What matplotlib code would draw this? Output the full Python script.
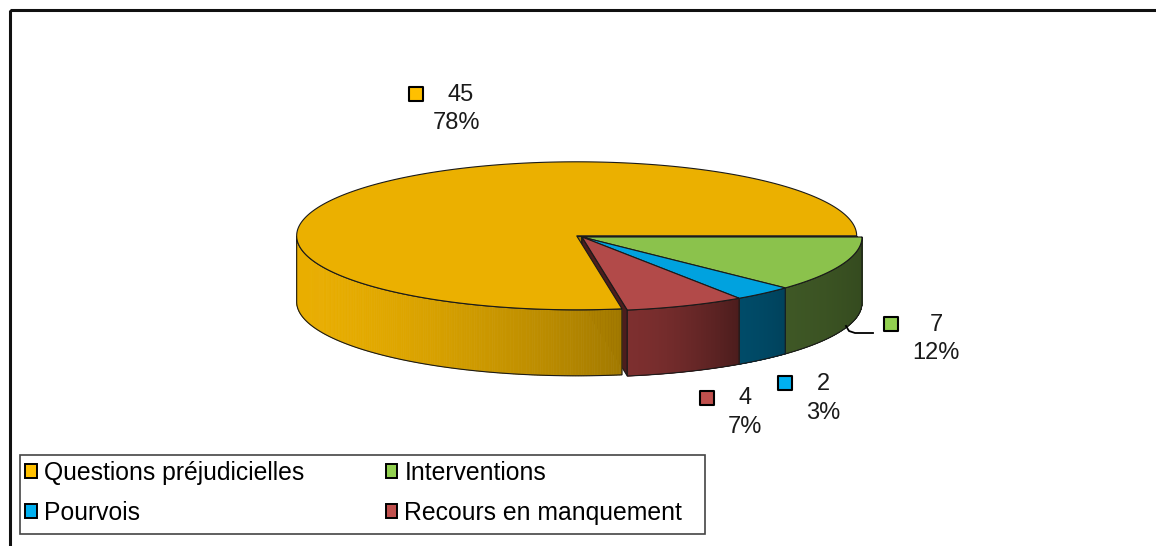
import numpy as np
import matplotlib.pyplot as plt
from matplotlib.patches import Polygon, Rectangle, Patch
from matplotlib.collections import PolyCollection
from matplotlib.colors import to_rgb

plt.rcParams['font.family'] = ['Liberation Sans', 'DejaVu Sans']

# données
categories = ['Questions préjudicielles', 'Interventions', 'Pourvois', 'Recours en manquement']
values = [45, 7, 2, 4]

top_colors = ['#EBB000', '#8BC24C', '#00A2DF', '#B24A49']
side_left = ['#E9AE00', '#3E5725', '#004B68', '#7D2F2F']
side_right = ['#A27900', '#354B1F', '#00425C', '#4C1D1D']
key_colors = ['#FFC000', '#92D050', '#00B0F0', '#C0504D']

# mise en page (pixels)
CX, CY = 582, 237
RX, RY = 280, 74
DEPTH = 66
explode = [0.025, 0, 0, 0]
val_xy = [(461, 95), (936, 325), (823, 384), (745, 398)]
pct_xy = [(457, 123), (936, 353), (823, 413), (745, 427)]
mark_xy = [(416, 94), (891, 324), (785, 383), (707, 398)]
EDGE = '#1a1a1a'

total = sum(values)
# Excel a tourné le camembert pour que "Interventions" commence à 3 heures
start_angle = 360.0 * values[0] / total


def rim(t, cx, cy):
    t = np.radians(t)
    return cx + RX * np.cos(t), cy - RY * np.sin(t)


fig = plt.figure(figsize=(11.56, 5.46), dpi=100)
ax = fig.add_axes([0, 0, 1, 1])
ax.set_xlim(0, 1156)
ax.set_ylim(546, 0)
ax.axis('off')

# secteurs (sens horaire)
slices = []
a0 = start_angle
for i, v in enumerate(values):
    a1 = a0 - 360.0 * v / total
    mid = np.radians((a0 + a1) / 2)
    cx = CX + explode[i] * RX * np.cos(mid)
    cy = CY - explode[i] * RY * np.sin(mid)
    slices.append((a0, a1, cx, cy))
    a0 = a1

# faces radiales visibles
for i, (a0, a1, cx, cy) in enumerate(slices):
    for ang, sign in ((a0, -1), (a1, 1)):
        if sign * np.cos(np.radians(ang)) > 1e-9:
            x, y = rim(ang, cx, cy)
            poly = [(cx, cy), (x, y), (x, y + DEPTH), (cx, cy + DEPTH)]
            ax.add_patch(Polygon(poly, closed=True, fc=side_right[i], ec=EDGE, lw=0.8))

# parois extérieures (partie avant seulement), avec dégradé
for i, (a0, a1, cx, cy) in enumerate(slices):
    ts = np.linspace(a1, a0, 500)
    vis = np.sin(np.radians(ts)) <= 1e-9
    idx = np.flatnonzero(vis)
    if len(idx) < 2:
        continue
    runs = np.split(idx, np.flatnonzero(np.diff(idx) > 1) + 1)
    for run in runs:
        if len(run) < 2:
            continue
        x, y = rim(ts[run], cx, cy)
        order = np.argsort(x)
        x, y = x[order], y[order]
        frac = (x - x.min()) / max(x.max() - x.min(), 1)
        c0, c1 = np.array(to_rgb(side_left[i])), np.array(to_rgb(side_right[i]))
        quads, cols = [], []
        for k in range(len(x) - 1):
            quads.append([(x[k], y[k]), (x[k + 1], y[k + 1]),
                          (x[k + 1], y[k + 1] + DEPTH), (x[k], y[k] + DEPTH)])
            f = ((frac[k] + frac[k + 1]) / 2) ** 1.6
            cols.append(c0 + (c1 - c0) * f)
        ax.add_collection(PolyCollection(quads, facecolors=cols, edgecolors=cols, linewidths=0.5))
        outline = np.r_[np.column_stack([x, y]), np.column_stack([x, y + DEPTH])[::-1]]
        ax.add_patch(Polygon(outline, closed=True, fill=False, ec=EDGE, lw=0.8))

# dessus
for i, (a0, a1, cx, cy) in enumerate(slices):
    ts = np.linspace(a1, a0, 400)
    x, y = rim(ts, cx, cy)
    pts = np.column_stack([np.r_[cx, x], np.r_[cy, y]])
    ax.add_patch(Polygon(pts, closed=True, fc=top_colors[i], ec=EDGE, lw=0.8))

# étiquettes de données
for i, v in enumerate(values):
    pct = f"{round(100 * v / total)}%"
    ax.text(*val_xy[i], str(v), ha='center', va='center', fontsize=17, color='#1a1a1a')
    ax.text(*pct_xy[i], pct, ha='center', va='center', fontsize=17, color='#1a1a1a')
    ax.scatter(*mark_xy[i], s=110, marker='s', color=key_colors[i], edgecolors='black', linewidths=1.5, zorder=5)

# ligne de rappel pour Interventions
ax.plot([873, 855, 849, 846], [333, 333, 331, 326], color='black', lw=1.3)

# cadre du graphique
ax.add_patch(Rectangle((10, 10), 1300, 700, fill=False, ec='#111111', lw=2.2))

# légende
ax.add_patch(Rectangle((20, 455), 685, 79, fill=False, ec='#444444', lw=1.2))
handles = [Patch(fc=c, ec='black', lw=1.4) for c in key_colors]
order = [0, 2, 1, 3]
fig.legend([handles[k] for k in order], [categories[k] for k in order],
           loc='upper left', bbox_to_anchor=(25 / 1156, 1 - 461 / 546), ncol=2,
           frameon=False, fontsize=17.8, handlelength=0.48, handleheight=0.48,
           handletextpad=0.28, columnspacing=3.3, labelspacing=0.65,
           borderpad=0, borderaxespad=0)

fig.savefig('out.png', dpi=100)
